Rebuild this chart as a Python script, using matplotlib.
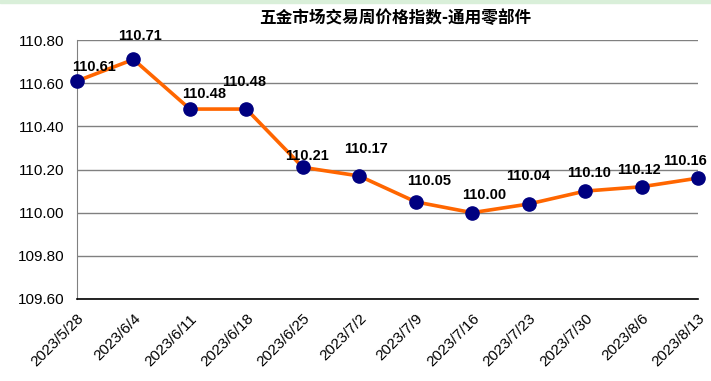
import matplotlib
matplotlib.use('Agg')
import matplotlib.pyplot as plt
from matplotlib.patches import Rectangle

dates = ['2023/5/28', '2023/6/4', '2023/6/11', '2023/6/18', '2023/6/25', '2023/7/2',
         '2023/7/9', '2023/7/16', '2023/7/23', '2023/7/30', '2023/8/6', '2023/8/13']
values = [110.61, 110.71, 110.48, 110.48, 110.21, 110.17,
          110.05, 110.00, 110.04, 110.10, 110.12, 110.16]
y_ticks = [109.60, 109.80, 110.00, 110.20, 110.40, 110.60, 110.80]
title = '五金市场交易周价格指数-通用零部件'

# label offsets (points) as placed by the original chart
label_dx = [12, 5, 10, -1.5, 3, 4.5, 10, 9, 0, 3, -2, -9]
label_dy = [10, 17, 11, 19.5, 8, 19.5, 15, 13, 20, 13, 12, 12]

fig = plt.figure(figsize=(7.11, 3.81), dpi=100)
ax = fig.add_axes([77 / 711, 1 - 299 / 381, (698 - 77) / 711, (299 - 40) / 381])

fig.patches.append(Rectangle((0, 1 - 3 / 381), 1, 3 / 381, transform=fig.transFigure,
                             color='#d9efd9', zorder=0))

x = list(range(len(values)))
ax.plot(x, values, color='#ff6600', lw=2.6, zorder=3, clip_on=False)
ax.plot(x, values, 'o', color='#000080', ms=9.5, zorder=4, clip_on=False)

for i, v in enumerate(values):
    ax.annotate(f'{v:.2f}', (i, v), xytext=(label_dx[i], label_dy[i]),
                textcoords='offset points', ha='center', va='center',
                fontsize=10.5, fontweight='bold', family='Liberation Sans', zorder=5)

ax.set_xlim(0, len(values) - 1)
ax.set_ylim(y_ticks[0], y_ticks[-1])
ax.set_yticks(y_ticks)
ax.set_yticklabels([f'{t:.2f}' for t in y_ticks], family='Liberation Sans', fontsize=11)
ax.set_xticks(x)
ax.set_xticklabels(dates, rotation=45, ha='right', rotation_mode='anchor',
                   family='Liberation Sans', fontsize=11)
ax.tick_params(axis='both', length=0)
ax.tick_params(axis='y', pad=9)
ax.tick_params(axis='x', pad=9)

ax.grid(axis='y', color='#808080', lw=1)
ax.set_axisbelow(True)
for s in ['top', 'right']:
    ax.spines[s].set_visible(False)
ax.spines['left'].set_color('#808080')
ax.spines['bottom'].set_color('black')
ax.spines['bottom'].set_linewidth(1.2)

fig.text(395 / 711, 1 - 18 / 381, title, ha='center', va='center', fontsize=12,
         fontweight='bold', family=['Noto Sans CJK SC', 'DejaVu Sans'])

fig.savefig('out.png', dpi=100)
